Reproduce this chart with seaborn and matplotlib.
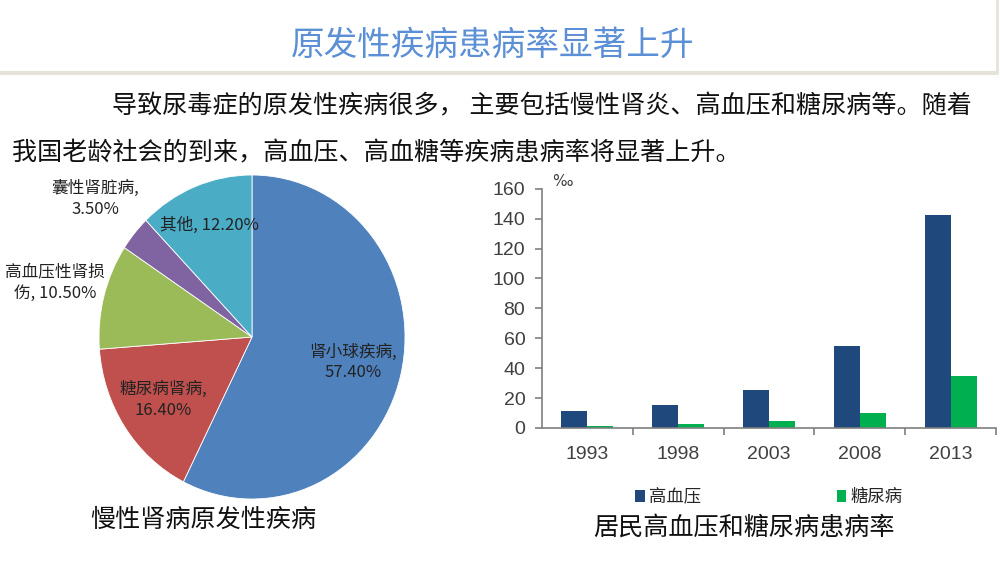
import matplotlib
matplotlib.use("Agg")
import matplotlib.pyplot as plt
import numpy as np
import pandas as pd
import seaborn as sns
from matplotlib.lines import Line2D

# pie data: primary diseases of chronic kidney disease
pie_labels = ["肾小球疾病,\n57.40%", "糖尿病肾病,\n16.40%", "高血压性肾损\n伤, 10.50%",
              "囊性肾脏病,\n3.50%", "其他, 12.20%"]
pie_values = [57.4, 16.4, 10.5, 3.5, 12.2]
pie_colors = ["#4F81BD", "#C0504D", "#9BBB59", "#8064A2", "#4BACC6"]
label_radius = [0.68, 0.70, 1.33, 1.33, 0.74]

# bar data: prevalence (‰)
years = ["1993", "1998", "2003", "2008", "2013"]
hypertension = [11.6, 15.1, 25.6, 54.5, 142.5]
diabetes = [1.1, 2.9, 4.7, 9.8, 34.5]
series_names = ["高血压", "糖尿病"]
bar_colors = ["#1F497D", "#00B050"]

title = "原发性疾病患病率显著上升"
para1 = "导致尿毒症的原发性疾病很多， 主要包括慢性肾炎、高血压和糖尿病等。随着"
para2 = "我国老龄社会的到来，高血压、高血糖等疾病患病率将显著上升。"
pie_caption = "慢性肾病原发性疾病"
bar_caption = "居民高血压和糖尿病患病率"

sns.set_theme(style="white")
plt.rcParams["font.family"] = ["Noto Sans CJK SC", "DejaVu Sans"]

W, H = 1000, 561
fig = plt.figure(figsize=(W / 100, H / 100), dpi=100)
fig.patch.set_facecolor("white")


def fx(px):
    return px / W


def fy(py):
    return 1 - py / H


# header
fig.text(fx(493), fy(45), title, ha="center", va="center", fontsize=24.2,
         color="#5B8FD6")
fig.add_artist(Line2D([0, fx(997)], [fy(73), fy(73)], color="#E6E4DA", lw=3))
fig.add_artist(Line2D([fx(997), fx(997)], [1, fy(73)], color="#E6E4DA", lw=2))
fig.text(fx(112), fy(106), para1, ha="left", va="center", fontsize=18.05, color="#111111")
fig.text(fx(12), fy(153), para2, ha="left", va="center", fontsize=18.05, color="#111111")

# pie chart
ax1 = fig.add_axes([fx(252 - 153), fy(337 + 162), fx(306), 324 / H])
wedges, _ = ax1.pie(pie_values, colors=pie_colors, startangle=90, counterclock=False,
                    wedgeprops=dict(edgecolor="white", linewidth=0.6))
ax1.set_aspect("auto")
ax1.set_xlim(-1, 1)
ax1.set_ylim(-1, 1)
for w, lab, r in zip(wedges, pie_labels, label_radius):
    ang = np.deg2rad((w.theta1 + w.theta2) / 2)
    ax1.text(r * np.cos(ang), r * np.sin(ang), lab, ha="center", va="center",
             fontsize=12, color="#222222", multialignment="center", linespacing=1.3)
fig.text(fx(203), fy(520), pie_caption, ha="center", va="center", fontsize=18.1,
         color="#111111")

# bar chart
df = pd.DataFrame({
    "year": years * 2,
    "value": hypertension + diabetes,
    "series": [series_names[0]] * len(years) + [series_names[1]] * len(years),
})
ax2 = fig.add_axes([fx(542), fy(428), fx(454), (428 - 188.7) / H])
sns.barplot(data=df, x="year", y="value", hue="series", palette=bar_colors,
            saturation=1, width=0.574, gap=0, linewidth=0, ax=ax2)
ax2.set_ylim(0, 160)
ax2.set_xlim(-0.5, 4.5)
ax2.set_yticks(range(0, 161, 20))
ax2.set_xlabel("")
ax2.set_ylabel("")
for s in ["top", "right"]:
    ax2.spines[s].set_visible(False)
for s in ["left", "bottom"]:
    ax2.spines[s].set_color("#7F7F7F")
    ax2.spines[s].set_linewidth(1.2)
ax2.tick_params(axis="y", left=True, length=5, width=1.2, color="#7F7F7F",
                labelsize=14, labelcolor="#404040", pad=7)
ax2.tick_params(axis="x", which="major", length=0, labelsize=14, labelcolor="#404040", pad=13)
ax2.set_xticks(np.arange(0.5, 4.6, 1), minor=True)
ax2.tick_params(axis="x", which="minor", bottom=True, length=5, width=1.2, color="#7F7F7F")
for lab in ax2.get_xticklabels() + ax2.get_yticklabels():
    lab.set_family(["Liberation Sans", "DejaVu Sans"])
ax2.text(0.046, 1.03, "‰", transform=ax2.transAxes, ha="center", va="center",
         fontsize=11, color="#404040", family=["DejaVu Sans"])
sns.move_legend(ax2, "center", bbox_to_anchor=(0.5, -0.29), ncol=2, frameon=False,
                title=None, fontsize=12.5, handlelength=0.55, handleheight=0.7,
                handletextpad=0.25, columnspacing=7.8)
fig.text(fx(744), fy(528), bar_caption, ha="center", va="center", fontsize=18.1,
         color="#111111")

fig.savefig("out.png", dpi=100)
